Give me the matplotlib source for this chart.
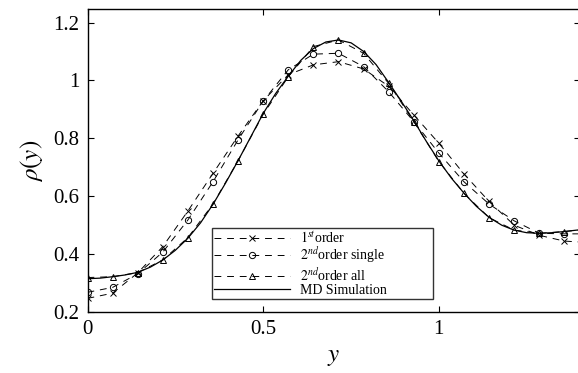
import matplotlib
matplotlib.use("Agg")
import matplotlib.pyplot as plt
from matplotlib.ticker import FuncFormatter

plt.rcParams['mathtext.fontset'] = 'stix'
plt.rcParams['font.family'] = ['Liberation Serif', 'DejaVu Serif']

# marker grid
x_pts = [0.0, 0.0715, 0.143, 0.2145, 0.286, 0.3575, 0.429, 0.5005, 0.572, 0.6435,
         0.715, 0.7865, 0.858, 0.9295, 1.001, 1.0725, 1.144, 1.2155, 1.287, 1.3585, 1.43]

first_order = [0.247, 0.265, 0.335, 0.426, 0.549, 0.679, 0.808, 0.930, 1.020, 1.054,
               1.065, 1.040, 0.980, 0.881, 0.783, 0.677, 0.582, 0.500, 0.465, 0.445, 0.440]
second_single = [0.268, 0.285, 0.332, 0.407, 0.518, 0.650, 0.795, 0.929, 1.037, 1.091,
                 1.094, 1.048, 0.961, 0.858, 0.749, 0.650, 0.573, 0.515, 0.472, 0.470, 0.470]
second_all = [0.319, 0.322, 0.336, 0.380, 0.457, 0.573, 0.723, 0.883, 1.013, 1.117,
              1.140, 1.094, 0.990, 0.858, 0.720, 0.610, 0.526, 0.483, 0.472, 0.478, 0.487]

x_md = [0.0, 0.036, 0.072, 0.107, 0.143, 0.179, 0.215, 0.250, 0.286, 0.322, 0.358,
        0.393, 0.429, 0.465, 0.500, 0.536, 0.572, 0.608, 0.643, 0.679, 0.715, 0.751,
        0.787, 0.822, 0.858, 0.894, 0.930, 0.965, 1.001, 1.037, 1.073, 1.108, 1.144,
        1.180, 1.215, 1.251, 1.287, 1.323, 1.358, 1.394, 1.43]
md_sim = [0.315, 0.317, 0.322, 0.328, 0.337, 0.355, 0.380, 0.413, 0.455, 0.508, 0.573,
          0.645, 0.723, 0.805, 0.885, 0.955, 1.015, 1.070, 1.110, 1.133, 1.140, 1.130,
          1.100, 1.055, 0.993, 0.928, 0.860, 0.790, 0.722, 0.662, 0.610, 0.565, 0.527,
          0.500, 0.483, 0.474, 0.472, 0.474, 0.478, 0.483, 0.487]

labels = [r'$1^{st}$order', r'$2^{nd}$order single', r'$2^{nd}$order all', 'MD Simulation']

fig = plt.figure(figsize=(5.78, 3.73), dpi=100)
ax = fig.add_axes([87.5/578, 1 - 312/373, 492.5/578, 303/373])

lw = 0.7
dash = (0, (7, 6))
ax.plot(x_pts, first_order, color='black', lw=lw, linestyle=dash, marker='x',
        markersize=4.5, markeredgewidth=0.7, label=labels[0])
ax.plot(x_pts, second_single, color='black', lw=lw, linestyle=dash, marker='o',
        markersize=4.5, markerfacecolor='none', markeredgewidth=0.7, label=labels[1])
ax.plot(x_pts, second_all, color='black', lw=lw, linestyle=dash, marker='^',
        markersize=5, markerfacecolor='none', markeredgewidth=0.7, label=labels[2])
ax.plot(x_md, md_sim, color='black', lw=0.9, linestyle='-', label=labels[3])

ax.set_xlim(0, 1.403)
ax.set_ylim(0.2, 1.247)
ax.set_xticks([0, 0.5, 1])
ax.set_yticks([0.2, 0.4, 0.6, 0.8, 1.0, 1.2])
fmt = FuncFormatter(lambda v, p: ('%g' % v))
ax.xaxis.set_major_formatter(fmt)
ax.yaxis.set_major_formatter(fmt)
ax.tick_params(direction='in', top=True, right=True, length=4, width=0.8,
               labelsize=15, pad=6)
for s in ax.spines.values():
    s.set_linewidth(1.0)

ax.set_xlabel(r'$y$', fontsize=18, labelpad=5)
ax.set_ylabel(r'$\rho(y)$', fontsize=18, labelpad=6)

leg = ax.legend(loc='lower left', bbox_to_anchor=(0.2528, 0.0429, 0.449, 0.2),
                mode='expand', borderaxespad=0,
                fontsize=10, handlelength=5.5, handletextpad=0.7, labelspacing=0.0,
                fancybox=False, frameon=True, edgecolor='black', borderpad=0.15)
leg.get_frame().set_linewidth(1.0)

fig.savefig('out.png', dpi=100)
